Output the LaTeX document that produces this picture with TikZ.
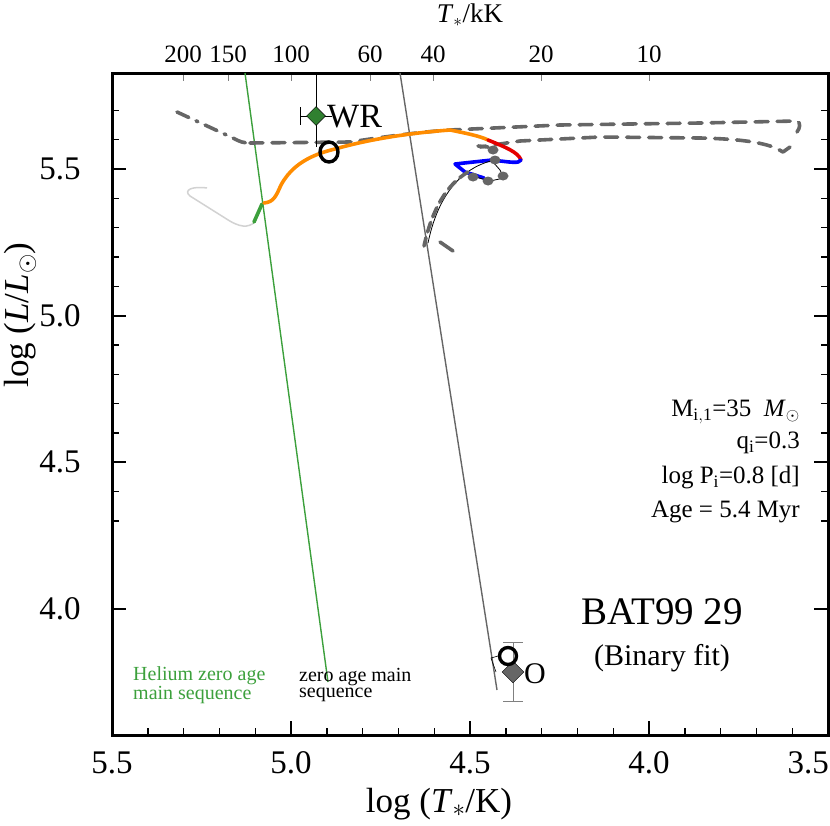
\documentclass[tikz,border=0pt]{standalone}
\usepackage{fontspec}
\setmainfont{Liberation Serif}
\usetikzlibrary{shapes.geometric}
\begin{document}
\begin{tikzpicture}[x=1pt,y=-1pt,
  trk/.style={line width=3.6pt,line cap=round,line join=round},
  gdash/.style={trk,color=dgray,dash pattern=on 13pt off 9pt},
  lbl/.style={inner sep=0pt},
  tk/.style={line width=1.4pt}]
\definecolor{dgray}{RGB}{102,102,102}
\definecolor{hegreen}{RGB}{60,160,60}
\definecolor{orng}{RGB}{255,140,0}
\useasboundingbox (0,0) rectangle (830,825);
% ticks bottom/top
\foreach \i in {0,...,20}{
  \pgfmathsetmacro\xx{112+\i*35.8}
  \draw[tk] (\xx,735) -- (\xx,728);
}
\foreach \xx/\t in {112/5.5,291/5.0,470/4.5,649/4.0}{
  \draw[tk] (\xx,735) -- (\xx,721);
  \node[lbl,font=\fontsize{33}{33}\selectfont] (b\t) at (\xx,763) {\t};
}
\node[lbl,font=\fontsize{33}{33}\selectfont,anchor=east] (b3.5) at (829,763) {3.5};
\foreach \xx/\t in {183/200,228/150,291/100,370/60,433/40,541/20,649/10}{
  \draw[line width=0.5pt,gray] (\xx,73) -- (\xx,81);
  \node[lbl,font=\fontsize{25}{25}\selectfont] (t\t) at (\xx,54) {\t};
}
% left/right ticks
\foreach \i in {-2,...,12}{
  \pgfmathsetmacro\yy{169+\i*29.33}
  \draw[tk] (112,\yy) -- (119,\yy);
  \draw[tk] (828,\yy) -- (821,\yy);
}
\foreach \yy/\t in {169/5.5,316/5.0,462/4.5,609/4.0}{
  \draw[tk] (112,\yy) -- (126,\yy);
  \draw[tk] (828,\yy) -- (814,\yy);
  \node[lbl,font=\fontsize{33}{33}\selectfont] (l\t) at (60,\yy) {\t};
}
\draw[line width=3pt] (112,73) rectangle (828,735);
% ZAMS lines
\draw[hegreen,line width=1.4pt] (245,73) -- (328,682);
\draw[dgray,line width=1.4pt] (400,73) -- (497,690);
% light grey start
\draw[gray!35,line width=1.5pt] (207,188) .. controls (192,186) and (183,190) .. (190,196) -- (225,218) .. controls (240,228) and (248,228) .. (255,222);
\draw[hegreen,trk] (254,222) -- (262,204);
% dashed companion track
\draw[trk,color=dgray,dash pattern=on 13pt off 8pt on 2pt off 8pt] (177,112) -- (233,138) .. controls (240,142) and (244,143) .. (250,143);
\draw[gdash] (250,143) -- (350,142) .. controls (390,136) and (420,132) .. (450,130) -- (560,125) -- (700,123) -- (797,121) .. controls (801,123) and (800,128) .. (797,132);
\draw[gdash] (790,147) -- (783,152) -- (776,148) .. controls (760,142) and (740,139) .. (700,138) -- (600,137) -- (520,141) -- (480,147);
% orange / red / blue track
\draw[orng,trk] (264,203) .. controls (274,202) and (276,196) .. (281,185) .. controls (292,165) and (310,155) .. (335,149) .. controls (370,139) and (410,133) .. (450,130) .. controls (465,133) and (480,136) .. (488,140);
\draw[red!90!black,trk] (488,140) .. controls (505,147) and (518,152) .. (521,160);
\draw[blue,trk] (521,160) .. controls (519,164) and (510,162) .. (492,160) -- (455,164) -- (465,172) -- (484,178);
% thin black and grey descending track
\draw[black,line width=0.8pt] (495,160) .. controls (470,165) and (440,185) .. (428,243);
\draw[black,line width=0.8pt] (493,162) -- (500,170) -- (504,178) -- (490,181) -- (472,176);
\draw[trk,color=dgray,dash pattern=on 10pt off 6pt] (468,172) .. controls (446,185) and (432,210) .. (424,246);
\draw[trk,color=dgray] (440,242) -- (453,251);
\foreach \p in {(495,160),(503,176),(488,181),(473,177),(493,150)}
  \fill[dgray] \p ellipse (5.5pt and 4.5pt);
\draw[trk,color=dgray] (478,146) -- (488,147);
% WR point
\draw[line width=0.9pt] (316,73) -- (316,147);
\draw[line width=0.9pt] (300,107) -- (300,125) (300,116) -- (332,116);
\node[draw=black,fill=hegreen!80!black,diamond,minimum size=19pt,inner sep=0pt,line width=0.5pt] (wr) at (316,116) {};
\node[lbl,font=\fontsize{34}{34}\selectfont,anchor=west] (wrl) at (327,117) {WR};
\draw[line width=3.4pt] (329,152) ellipse (9pt and 10pt);
% O point
\draw[line width=0.6pt,gray] (513,642) -- (513,701) (503,642) -- (523,642) (503,701) -- (523,701);
\node[draw=black,fill=dgray,diamond,minimum size=22pt,inner sep=0pt,line width=0.4pt] (ob) at (513,672) {};
\draw[line width=0.6pt] (496,672) -- (491,658) -- (498,656);
\draw[line width=3.4pt] (508,656) circle (8.5pt);
\node[lbl,font=\fontsize{30}{30}\selectfont,anchor=west] (ol) at (524,674) {O};
% labels
\node[lbl,font=\fontsize{39}{39}\selectfont] (name) at (662,612) {BAT99 29};
\node[lbl,font=\fontsize{30}{30}\selectfont] (fit) at (662,658) {(Binary fit)};
\node[lbl,font=\fontsize{25}{25}\selectfont,anchor=east] (p1) at (800,412) {M$_{\mathrm{i,1}}$=35\ \ \textit{M}$_\odot$};
\node[lbl,font=\fontsize{25}{25}\selectfont,anchor=east] (p2) at (800,443) {q$_{\mathrm{i}}$=0.3};
\node[lbl,font=\fontsize{25}{25}\selectfont,anchor=east] (p3) at (800,478) {log P$_{\mathrm{i}}$=0.8 [d]};
\node[lbl,font=\fontsize{25}{25}\selectfont,anchor=east] (p4) at (800,512) {Age = 5.4 Myr};
\node[lbl,font=\fontsize{20}{16}\selectfont,hegreen,align=left,anchor=west] (he) at (133,685) {Helium zero age\\main sequence};
\node[lbl,font=\fontsize{20}{16}\selectfont,align=left,anchor=west] (zams) at (299,685) {zero age main\\sequence};
\node[lbl,font=\fontsize{35}{35}\selectfont] (xl) at (439,804) {log (\textit{T}$_*$/K)};
\node[lbl,font=\fontsize{35}{35}\selectfont,rotate=90] (yl) at (20,315) {log (\textit{L}/\textit{L}$_\odot$)};
\node[lbl,font=\fontsize{27}{27}\selectfont] (tl) at (470,15) {\textit{T}$_*$/kK};
\end{tikzpicture}
\end{document}
